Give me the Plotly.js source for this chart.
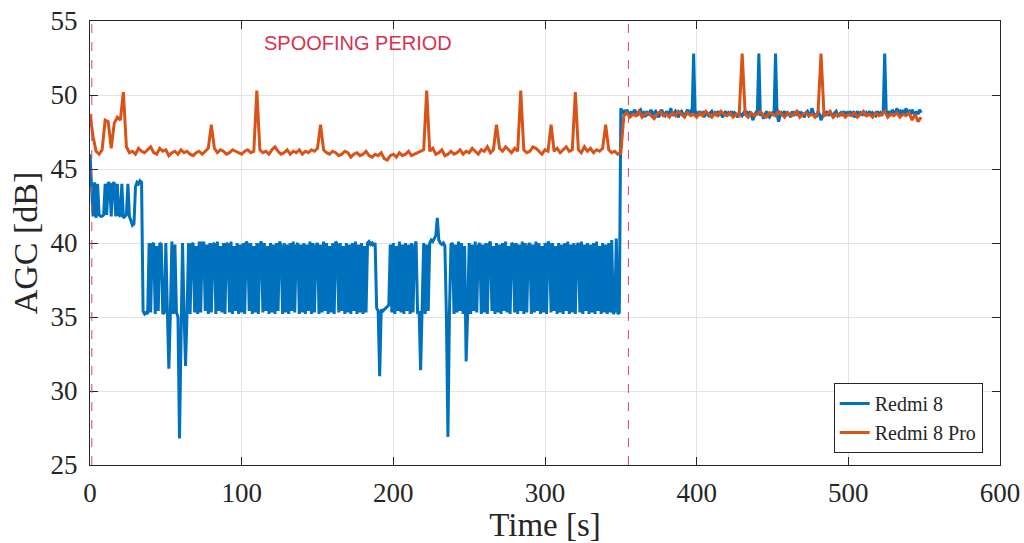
<!DOCTYPE html>
<html>
<head>
<meta charset="utf-8">
<script src="https://cdn.plot.ly/plotly-3.0.1.min.js"></script>
<style>html,body{margin:0;padding:0;background:#fff;}#chart{width:1024px;height:543px;}</style>
</head>
<body>
<div id="chart"></div>
<script>
// Sampling grids of the recorded series (seconds)
const redmi8Start = 0, redmi8Step = 1;
const redmi8ProStart = 0, redmi8ProStep = 2;

// Redmi 8 AGC [dB], one value per second, t = 0 .. 548
const redmi8 = [
  46.0, 44.0, 41.8, 44.1, 41.7, 44.0, 41.9, 41.8, 41.8, 41.9,
  44.0, 41.9, 44.1, 44.0, 41.8, 44.0, 44.1, 41.8, 44.0, 41.9,
  41.8, 44.0, 41.7, 41.8, 41.9, 44.0, 41.8, 41.5, 41.2, 41.3,
  43.8, 44.1, 44.0, 44.2, 44.1, 35.4, 35.2, 35.3, 35.2, 40.0,
  35.3, 39.9, 40.0, 35.2, 39.8, 35.4, 40.0, 39.9, 35.2, 35.3,
  40.0, 35.4, 31.5, 35.3, 40.1, 35.2, 39.9, 35.3, 35.0, 26.8,
  35.2, 40.0, 35.3, 31.7, 35.4, 40.0, 35.2, 39.9, 40.0, 35.3,
  39.8, 35.2, 40.1, 35.3, 40.0, 40.0, 35.4, 39.9, 35.2, 40.0,
  35.3, 39.9, 40.0, 35.2, 40.1, 35.4, 39.8, 35.3, 40.0, 35.2,
  40.0, 39.9, 35.3, 40.1, 35.2, 39.8, 35.4, 40.0, 35.2, 39.9,
  35.3, 40.0, 35.2, 40.1, 39.9, 35.4, 40.0, 35.2, 39.8, 35.3,
  40.0, 35.2, 39.9, 40.1, 35.3, 40.0, 35.4, 39.8, 35.2, 40.0,
  35.3, 39.9, 35.2, 40.0, 35.4, 40.1, 39.8, 35.2, 40.0, 35.3,
  39.9, 35.2, 40.0, 35.4, 40.1, 35.3, 39.8, 40.0, 35.2, 39.9,
  35.3, 40.0, 35.2, 39.9, 35.4, 40.1, 35.2, 40.0, 35.3, 39.8,
  40.0, 35.2, 39.9, 35.3, 40.1, 35.4, 40.0, 35.2, 39.8, 35.3,
  40.0, 35.2, 40.1, 39.9, 35.3, 40.0, 35.4, 39.8, 35.2, 40.0,
  35.3, 39.9, 35.2, 40.0, 35.4, 40.1, 35.2, 39.9, 35.3, 40.0,
  35.2, 39.8, 35.3, 40.0, 40.1, 39.9, 40.0, 39.8, 40.0, 35.6,
  35.4, 31.0, 35.5, 35.4, 35.5, 35.6, 35.7, 35.8, 39.9, 35.3,
  40.0, 35.2, 39.8, 35.4, 40.1, 35.3, 39.9, 35.2, 40.0, 35.4,
  39.9, 35.2, 40.0, 35.3, 39.8, 40.1, 35.2, 35.4, 31.4, 35.3,
  40.0, 35.2, 39.9, 35.4, 40.0, 40.2, 40.1, 40.3, 40.5, 41.7,
  40.2, 40.0, 39.9, 40.0, 39.8, 35.0, 26.9, 35.3, 39.9, 40.0,
  35.2, 39.9, 35.3, 40.1, 35.4, 40.0, 35.2, 39.8, 32.0, 35.3,
  40.0, 35.2, 39.9, 35.4, 40.1, 35.3, 39.8, 40.0, 35.2, 39.9,
  35.3, 40.0, 35.2, 39.9, 40.1, 35.4, 39.8, 35.2, 40.0, 35.3,
  39.9, 35.2, 40.0, 35.4, 40.1, 35.3, 39.8, 35.2, 40.0, 39.9,
  35.3, 40.0, 35.2, 39.9, 35.4, 40.1, 35.2, 40.0, 35.3, 39.8,
  40.0, 35.2, 39.9, 35.3, 40.1, 35.4, 40.0, 35.2, 39.8, 35.3,
  40.0, 35.2, 40.1, 39.9, 35.3, 40.0, 35.4, 39.8, 35.2, 40.0,
  35.3, 39.9, 35.2, 40.0, 35.4, 40.1, 35.2, 39.9, 35.3, 40.0,
  35.2, 39.8, 40.0, 35.3, 40.1, 35.2, 39.9, 35.4, 40.0, 35.2,
  39.9, 35.3, 40.0, 35.2, 40.1, 35.4, 39.8, 35.2, 40.0, 35.3,
  39.9, 35.2, 40.0, 35.3, 40.2, 35.2, 35.4, 40.3, 35.2, 35.3,
  49.1, 48.8, 48.9, 48.7, 49.0, 48.8, 48.6, 48.9, 48.7, 49.0,
  48.8, 48.6, 48.9, 49.0, 48.7, 48.8, 48.5, 48.9, 48.7, 48.8,
  49.0, 48.6, 48.8, 48.9, 48.7, 48.5, 48.8, 49.0, 48.7, 48.6,
  48.9, 48.7, 48.8, 49.1, 48.6, 48.8, 48.9, 48.7, 48.5, 48.8,
  48.9, 48.7, 48.6, 48.8, 49.0, 48.7, 48.9, 48.8, 52.8, 48.7,
  48.8, 48.6, 48.9, 48.7, 48.8, 48.5, 48.9, 48.7, 48.6, 48.8,
  48.9, 48.7, 48.8, 48.6, 48.9, 48.7, 48.8, 48.5, 48.7, 48.9,
  48.6, 48.8, 48.7, 48.9, 48.6, 48.8, 48.7, 48.5, 48.8, 48.7,
  48.6, 48.8, 48.7, 48.9, 48.6, 48.8, 48.7, 48.3, 48.6, 48.8,
  48.7, 52.8, 48.6, 48.8, 48.4, 48.7, 48.9, 48.6, 48.5, 48.7,
  48.8, 48.6, 52.8, 48.7, 48.2, 48.6, 48.8, 48.7, 48.9, 48.6,
  48.8, 48.7, 48.5, 48.9, 48.6, 48.8, 48.7, 48.9, 48.6, 48.8,
  48.7, 48.5, 48.8, 48.9, 48.6, 48.7, 49.1, 48.8, 48.6, 48.5,
  48.9, 48.7, 48.3, 48.6, 48.8, 48.7, 48.9, 48.6, 48.8, 48.7,
  48.5, 48.8, 48.9, 48.6, 48.7, 48.8, 48.6, 48.9, 48.7, 48.8,
  48.6, 48.9, 48.7, 48.8, 48.5, 48.7, 48.9, 48.6, 48.8, 48.7,
  48.9, 48.6, 48.8, 48.7, 48.9, 48.6, 48.8, 48.7, 48.6, 48.9,
  48.7, 48.8, 48.6, 48.9, 52.8, 48.8, 48.7, 48.9, 48.6, 49.0,
  48.8, 48.7, 49.1, 48.8, 48.9, 48.6, 49.0, 48.7, 49.1, 48.8,
  48.9, 48.7, 49.0, 48.8, 48.6, 48.9, 48.7, 49.0, 48.8
];

// Redmi 8 Pro AGC [dB], one value every 2 s, t = 0 .. 548
const redmi8Pro = [
  48.7, 47.2, 46.2, 46.0, 46.3, 48.3, 48.2, 46.4, 48.1, 48.5,
  48.3, 50.2, 46.5, 46.1, 46.2, 46.0, 46.4, 46.2, 46.1, 46.3,
  46.5, 46.1, 46.0, 46.4, 46.2, 46.3, 45.9, 46.1, 46.2, 46.0,
  46.3, 46.1, 46.2, 46.0, 45.9, 46.1, 46.2, 46.0, 46.2, 46.4,
  48.0, 46.4, 46.1, 46.3, 46.2, 46.0, 46.1, 46.3, 46.2, 46.1,
  46.0, 46.2, 46.3, 46.1, 46.2, 50.3, 46.3, 46.1, 46.2, 46.0,
  46.3, 46.5, 46.2, 46.0, 46.1, 46.3, 46.0, 46.2, 46.1, 46.3,
  46.0, 46.2, 46.1, 46.3, 46.2, 46.4, 48.0, 46.3, 46.1, 46.0,
  46.2, 46.1, 45.9, 46.0, 46.2, 46.1, 45.8, 46.0, 46.1, 45.9,
  46.0, 46.2, 45.9, 45.8, 46.0, 45.9, 46.1, 45.7, 45.6, 45.9,
  46.0, 45.8, 46.1, 45.9, 46.0, 46.2, 45.9, 46.0, 46.1, 46.2,
  46.3, 50.3, 46.2, 46.4, 46.0, 46.1, 46.3, 45.9, 46.0, 46.2,
  46.0, 46.1, 46.3, 46.0, 46.2, 46.1, 46.4, 46.2, 46.0, 46.3,
  46.2, 46.5, 46.1, 46.3, 48.0, 46.4, 46.2, 46.5, 46.3, 46.1,
  46.4, 46.2, 50.3, 46.3, 46.1, 46.2, 46.5, 46.4, 46.2, 46.0,
  46.3, 46.2, 48.0, 46.2, 46.4, 46.1, 46.3, 46.5, 46.2, 46.3,
  50.2, 46.3, 46.1, 46.5, 46.2, 46.4, 46.1, 46.3, 46.2, 46.4,
  48.0, 46.3, 46.1, 46.2, 46.0, 46.1, 48.6, 48.8, 48.5, 48.7,
  48.6, 48.9, 48.5, 48.7, 48.8, 48.6, 48.4, 48.7, 48.9, 48.6,
  48.7, 48.5, 48.8, 48.6, 48.9, 48.7, 48.5, 48.8, 48.6, 48.7,
  48.5, 48.8, 48.6, 48.9, 48.7, 48.5, 48.8, 48.6, 48.9, 48.7,
  48.6, 48.8, 48.5, 48.7, 48.6, 52.8, 48.7, 48.5, 48.8, 48.6,
  48.7, 48.9, 48.6, 48.5, 48.8, 48.7, 48.6, 48.9, 48.7, 48.5,
  48.8, 48.6, 48.7, 48.9, 48.5, 48.7, 48.8, 48.6, 48.7, 48.5,
  48.8, 52.8, 48.6, 48.7, 48.9, 48.5, 48.7, 48.6, 48.8, 48.5,
  48.7, 48.6, 48.8, 48.5, 48.7, 48.9, 48.6, 48.7, 48.5, 48.8,
  48.6, 48.7, 48.9, 48.5, 48.7, 48.6, 48.8, 48.5, 48.7, 48.6,
  48.8, 48.3, 48.7, 48.2, 48.5
];

// Spoofing period boundaries (s) and its label
const spoofBounds = [1.2, 355];
const spoofLabel = 'SPOOFING PERIOD';
const spoofLabelPos = [177, 53.5];

const seriesNames = ['Redmi 8', 'Redmi 8 Pro'];
const xTicks = [0, 100, 200, 300, 400, 500, 600];
const yTicks = [25, 30, 35, 40, 45, 50, 55];

const timeOf = (arr, start, step) => arr.map((v, i) => start + i * step);

const serif = 'Liberation Serif, DejaVu Serif, serif';
const ink = '#262626';

const traces = [
  {x: timeOf(redmi8, redmi8Start, redmi8Step), y: redmi8, name: seriesNames[0],
   type: 'scatter', mode: 'lines', line: {color: '#0072BD', width: 3}},
  {x: timeOf(redmi8Pro, redmi8ProStart, redmi8ProStep), y: redmi8Pro, name: seriesNames[1],
   type: 'scatter', mode: 'lines', line: {color: '#D95319', width: 3}}
];

const layout = {
  width: 1024, height: 543,
  margin: {l: 90, r: 24, t: 21, b: 78},
  paper_bgcolor: '#fff', plot_bgcolor: '#fff',
  showlegend: true,
  legend: {
    x: 0.981, y: 0.027, xanchor: 'right', yanchor: 'bottom',
    bgcolor: '#fff', bordercolor: ink, borderwidth: 1,
    font: {family: serif, size: 20, color: ink},
    itemwidth: 30, tracegroupgap: 0
  },
  xaxis: {
    range: [0, 600], tickvals: xTicks, ticktext: xTicks.map(String),
    showgrid: true, gridcolor: '#e3e3e3', gridwidth: 1, zeroline: false,
    showline: true, linecolor: ink, linewidth: 1, mirror: 'ticks',
    ticks: 'inside', ticklen: 8, tickcolor: ink,
    tickfont: {family: serif, size: 27, color: ink},
    ticklabelstandoff: 4,
    title: {text: 'Time [s]', font: {family: serif, size: 33, color: ink}, standoff: 3}
  },
  yaxis: {
    range: [25, 55], tickvals: yTicks, ticktext: yTicks.map(String),
    showgrid: true, gridcolor: '#e3e3e3', gridwidth: 1, zeroline: false,
    showline: true, linecolor: ink, linewidth: 1, mirror: 'ticks',
    ticks: 'inside', ticklen: 8, tickcolor: ink,
    tickfont: {family: serif, size: 27, color: ink},
    ticklabelstandoff: 6,
    title: {text: 'AGC [dB]', font: {family: serif, size: 34, color: ink}, standoff: 2}
  },
  shapes: spoofBounds.map(b => ({
    type: 'line', xref: 'x', yref: 'paper', x0: b, x1: b, y0: 0, y1: 1,
    line: {color: '#d9465e', width: 1, dash: 'dash'}
  })),
  annotations: [{
    x: spoofLabelPos[0], y: spoofLabelPos[1], xref: 'x', yref: 'y',
    text: spoofLabel, showarrow: false,
    font: {family: 'Liberation Sans, Arial, sans-serif', size: 20, color: '#d6334e'}
  }]
};

Plotly.newPlot('chart', traces, layout, {staticPlot: true, displayModeBar: false});
</script>
</body>
</html>
